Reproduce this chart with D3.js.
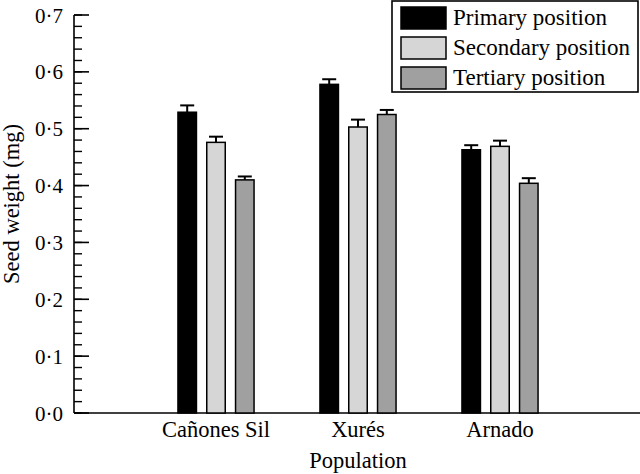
<!DOCTYPE html>
<html><head><meta charset="utf-8">
<script src="https://cdn.jsdelivr.net/npm/d3@7"></script>
<style>
html,body{margin:0;padding:0;background:#fff;}
svg{display:block;}
</style></head>
<body><svg id="c" width="640" height="474" font-family="Liberation Serif, Times New Roman, serif"></svg>
<script>
const categories = ["Cañones Sil", "Xurés", "Arnado"];
const seriesNames = ["Primary position", "Secondary position", "Tertiary position"];
const primary = [0.529, 0.578, 0.463];
const secondary = [0.476, 0.503, 0.469];
const tertiary = [0.410, 0.525, 0.404];
const primaryErr = [0.012, 0.009, 0.008];
const secondaryErr = [0.010, 0.013, 0.010];
const tertiaryErr = [0.006, 0.008, 0.009];
const yTicks = [0, 0.1, 0.2, 0.3, 0.4, 0.5, 0.6, 0.7];
const colors = ["#000000", "#d6d6d6", "#a0a0a0"];

const values = [primary, secondary, tertiary];
const errs = [primaryErr, secondaryErr, tertiaryErr];
const FF = "Liberation Serif";

const svg = d3.select("#c");
const x = d3.scaleLinear().domain([0, 4]).range([74, 642]);
const y = d3.scaleLinear().domain([0, 0.7]).range([413, 15]);
const barW = 18.5, step = 28.8;

// y axis
const minor = d3.range(0, 0.7001, 0.02);
svg.append("line").attr("x1", 74).attr("x2", 74).attr("y1", y(0.7)).attr("y2", y(0))
  .attr("stroke", "#000").attr("stroke-width", 1.6);
svg.selectAll(".mt").data(minor).enter().append("line")
  .attr("x1", 74).attr("x2", 82).attr("y1", d => y(d)).attr("y2", d => y(d))
  .attr("stroke", "#000").attr("stroke-width", 1.4);
svg.selectAll(".Mt").data(yTicks).enter().append("line")
  .attr("x1", 74).attr("x2", 89).attr("y1", d => y(d)).attr("y2", d => y(d))
  .attr("stroke", "#000").attr("stroke-width", 1.6);
svg.selectAll(".yl").data(yTicks).enter().append("text")
  .attr("font-family", FF)
  .attr("x", 63).attr("y", d => y(d) + 7.5).attr("text-anchor", "end")
  .attr("font-size", 21).text(d => d3.format(".1f")(d).replace(".", "·"));

// x axis
svg.append("line").attr("x1", 74).attr("x2", 640).attr("y1", y(0)).attr("y2", y(0))
  .attr("stroke", "#000").attr("stroke-width", 1.6);

// bars
categories.forEach((c, i) => {
  const cx = x(i + 1);
  values.forEach((vals, s) => {
    const bx = cx + (s - 1) * step - barW / 2;
    const v = vals[i], e = errs[s][i];
    svg.append("line").attr("x1", bx + barW / 2).attr("x2", bx + barW / 2)
      .attr("y1", y(v)).attr("y2", y(v + e)).attr("stroke", "#000").attr("stroke-width", 2);
    svg.append("line").attr("x1", bx + barW / 2 - 7).attr("x2", bx + barW / 2 + 7)
      .attr("y1", y(v + e)).attr("y2", y(v + e)).attr("stroke", "#000").attr("stroke-width", 2);
    svg.append("rect").attr("x", bx).attr("y", y(v)).attr("width", barW).attr("height", y(0) - y(v))
      .attr("fill", colors[s]).attr("stroke", "#000").attr("stroke-width", 1.5);
  });
  svg.append("text").attr("font-family", FF).attr("x", cx).attr("y", 437).attr("text-anchor", "middle")
    .attr("font-size", 22.5).text(c);
});

svg.append("text").attr("font-family", FF).attr("x", x(2)).attr("y", 468).attr("text-anchor", "middle")
  .attr("font-size", 22.5).text("Population");
svg.append("text").attr("font-family", FF).attr("transform", `translate(19,204) rotate(-90)`)
  .attr("text-anchor", "middle").attr("font-size", 22.5).text("Seed weight (mg)");

// legend
const lg = svg.append("g");
lg.append("rect").attr("x", 392).attr("y", 1).attr("width", 246).attr("height", 91)
  .attr("fill", "#fff").attr("stroke", "#000").attr("stroke-width", 1.6);
seriesNames.forEach((n, s) => {
  lg.append("rect").attr("x", 401).attr("y", 7 + s * 30).attr("width", 45).attr("height", 22)
    .attr("fill", colors[s]).attr("stroke", "#000").attr("stroke-width", 1.5);
  lg.append("text").attr("font-family", FF).attr("x", 453).attr("y", 25 + s * 30)
    .attr("font-size", 23).text(n);
});
</script></body></html>
